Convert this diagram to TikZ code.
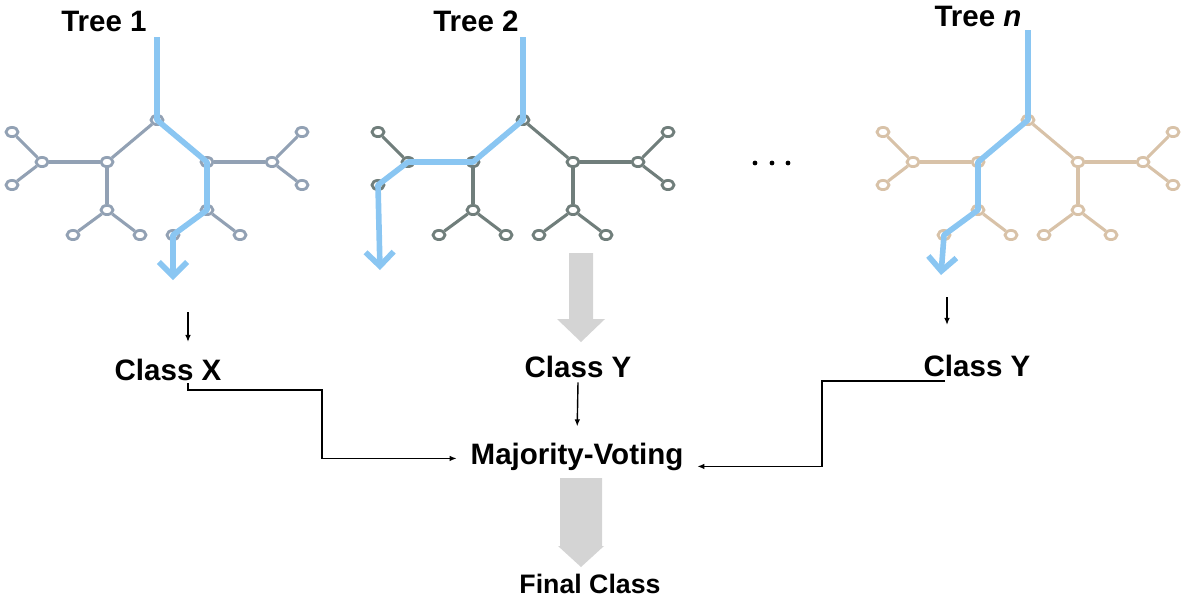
\documentclass[tikz,border=0pt]{standalone}
\usepackage{fontspec}
\setmainfont{Liberation Sans}
\usetikzlibrary{shapes.geometric,arrows.meta}

\definecolor{treeone}{RGB}{146,161,180}
\definecolor{treetwo}{RGB}{112,126,123}
\definecolor{treen}{RGB}{216,194,168}
\definecolor{pathblue}{RGB}{138,198,242}
\definecolor{blockgray}{RGB}{212,212,212}

\begin{document}
\begin{tikzpicture}[
    x=0.025cm, y=-0.025cm,
    vtx/.style={ellipse,draw,fill=white,line width=2pt,minimum width=0.3cm,minimum height=0.23cm,inner sep=0pt},
    branch/.style={line width=2.2pt},
    route/.style={draw=pathblue,line width=4pt,line join=round,-{Straight Barb[length=10pt,width=20pt]}},
    lbl/.style={font=\fontsize{21}{25}\selectfont\bfseries,anchor=base},
    arr/.style={line width=1pt,-{Latex[length=5pt,width=4pt]}},
    block/.style={fill=blockgray},
    ]
    \useasboundingbox (0,0) rectangle (1181,601);

    % three trees, same shape
    \foreach \t/\rx/\col in {a/157/treeone,b/523/treetwo,c/1028/treen}{
      \begin{scope}[shift={(\rx,120)},every node/.append style={draw=\col}]
        \node[vtx] (\t-root) at (0,0) {};
        \node[vtx] (\t-l) at (-50,42) {};
        \node[vtx] (\t-r) at (50,42) {};
        \node[vtx] (\t-ll) at (-115,42) {};
        \node[vtx] (\t-rr) at (115,42) {};
        \node[vtx] (\t-ll1) at (-145,12) {};
        \node[vtx] (\t-ll2) at (-145,65) {};
        \node[vtx] (\t-rr1) at (145,12) {};
        \node[vtx] (\t-rr2) at (145,65) {};
        \node[vtx] (\t-ld) at (-50,90) {};
        \node[vtx] (\t-rd) at (50,90) {};
        \node[vtx] (\t-ld1) at (-84,115) {};
        \node[vtx] (\t-ld2) at (-17,115) {};
        \node[vtx] (\t-rd1) at (16,115) {};
        \node[vtx] (\t-rd2) at (83,115) {};
        \draw[branch,draw=\col] (\t-root) edge (\t-l) edge (\t-r)
          (\t-l) edge (\t-ll) edge (\t-ld)
          (\t-r) edge (\t-rr) edge (\t-rd)
          (\t-ll) edge (\t-ll1) edge (\t-ll2)
          (\t-rr) edge (\t-rr1) edge (\t-rr2)
          (\t-ld) edge (\t-ld1) edge (\t-ld2)
          (\t-rd) edge (\t-rd1) edge (\t-rd2);
      \end{scope}
    }

    % decision paths
    \coordinate (a-top) at (157,37);
    \coordinate (a-end) at (173,280);
    \coordinate (b-top) at (523,37);
    \coordinate (b-end) at (380,270);
    \coordinate (c-top) at (1028,30);
    \coordinate (c-end) at (941,275);
    \draw[route] (a-top) -- (a-root.center) -- (a-r.center) -- (a-rd.center) -- (a-rd1.center) -- (a-end);
    \draw[route] (b-top) -- (b-root.center) -- (b-l.center) -- (b-ll.center) -- (b-ll2.center) -- (b-end);
    \draw[route] (c-top) -- (c-root.center) -- (c-l.center) -- (c-ld.center) -- (c-ld1.center) -- (c-end);

    \node[lbl] (t1) at (104,31) {Tree 1};
    \node[lbl] (t2) at (476,31) {Tree 2};
    \node[lbl] (tn) at (978,26) {Tree \textit{n}};
    \foreach \x in {755,772,788} \fill (\x,163) circle[radius=1.7pt];

    \node[lbl] (cx) at (168,380) {Class X};
    \node[lbl] (cy) at (578,377) {Class Y};
    \node[lbl] (cyn) at (977,376) {Class Y};
    \node[lbl] (vote) at (577,464) {Majority-Voting};
    \node[lbl,font=\fontsize{19}{23}\selectfont\bfseries] (final) at (590,593) {Final Class};

    \fill[block] (569,253) -- (593,253) -- (593,319) -- (605,319) -- (581,342) -- (557,319) -- (569,319) -- cycle;
    \fill[block] (560,478) -- (602,478) -- (602,546) -- (604,546) -- (581,567) -- (558,546) -- (560,546) -- cycle;

    \coordinate (a-res) at (188,312);
    \coordinate (c-res) at (947,297);
    \coordinate (cx-out) at (188,383);
    \coordinate (cyn-out) at (945,381);
    \draw[arr] (a-res) -- ++(0,30);
    \draw[arr] (c-res) -- ++(0,28);
    \draw[arr,shorten >=8pt] (cy.south) -- (vote.north);
    \draw[arr] (cx-out) |- (322,390) |- ([shift={(-9,2)}]vote.west);
    \draw[arr] (cyn-out) -| (822,424) |- ([shift={(9,10)}]vote.east);
\end{tikzpicture}
\end{document}
